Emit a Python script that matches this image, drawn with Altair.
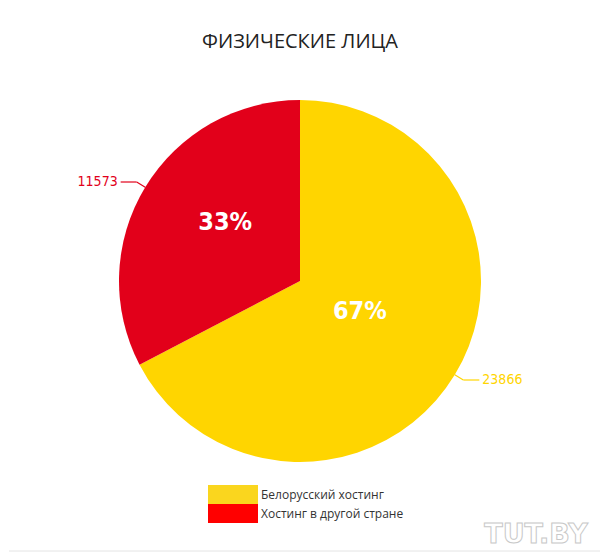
import altair as alt
import pandas as pd

# ---- data ----
categories = ["Белорусский хостинг", "Хостинг в другой стране"]
values = [23866, 11573]
pct_labels = ["67%", "33%"]
value_labels = ["23866", "11573"]
order_idx = [0, 1]
title_text = ["ФИЗИЧЕСКИЕ ЛИЦА"]
watermark_text = ["TUT.BY"]

df = pd.DataFrame({"cat": categories, "value": values, "pct": pct_labels,
                   "lbl": value_labels, "idx": order_idx})

slice_colors = ["#FFD500", "#E2001A"]
legend_colors = ["#FAD61E", "#FF0000"]

CX, CY, R = 300, 281, 181
ELBOW = 191

color = alt.Color("cat:N", scale=alt.Scale(domain=categories, range=slice_colors), legend=None)

base = alt.Chart(df)

pie = base.mark_arc(outerRadius=R).encode(
    theta=alt.Theta("value:Q", stack=True),
    color=color,
    order=alt.Order("idx:Q"),
    x=alt.value(CX), y=alt.value(CY),
)

geo = base.transform_joinaggregate(total="sum(value)").transform_window(
    cum="sum(value)", sort=[alt.SortField("idx")], frame=[None, 0]
).transform_calculate(
    a="(datum.cum - datum.value/2) / datum.total * 2 * PI",
).transform_calculate(
    s="sin(datum.a)", c="cos(datum.a)", sg="sin(datum.a) < 0 ? -1 : 1",
).transform_calculate(
    x1=f"{CX} + {R}*datum.s", y1=f"{CY} - {R}*datum.c",
    ex=f"{CX} + {ELBOW}*datum.s", ey=f"{CY} - {ELBOW}*datum.c",
).transform_calculate(
    hx="datum.ex + datum.sg*16", tx="datum.ex + datum.sg*19",
    # percentage label placement inside the slices
    pr="datum.idx == 0 ? 67 : 95",
    pa="datum.a + (datum.idx == 0 ? -0.08 : 0.12)",
).transform_calculate(
    px=f"{CX} + datum.pr*sin(datum.pa)", py=f"{CY} - datum.pr*cos(datum.pa)",
)

diag = geo.mark_rule(strokeWidth=1.2).encode(
    x=alt.X("x1:Q", scale=None), y=alt.Y("y1:Q", scale=None),
    x2="ex:Q", y2="ey:Q", color=color,
)
horiz = geo.mark_rule(strokeWidth=1.2).encode(
    x=alt.X("ex:Q", scale=None), y=alt.Y("ey:Q", scale=None),
    x2="hx:Q", y2="ey:Q", color=color,
)
lbl_font = dict(font="DejaVu Sans Condensed", fontSize=14, baseline="middle")
lbl_left = geo.transform_filter("datum.sg < 0").mark_text(align="right", **lbl_font).encode(
    x=alt.X("tx:Q", scale=None), y=alt.Y("ey:Q", scale=None), text="lbl:N", color=color,
)
lbl_right = geo.transform_filter("datum.sg > 0").mark_text(align="left", **lbl_font).encode(
    x=alt.X("tx:Q", scale=None), y=alt.Y("ey:Q", scale=None), text="lbl:N", color=color,
)

pct = geo.mark_text(font="DejaVu Sans Condensed", fontWeight="bold", fontSize=25,
                    color="white", align="center", baseline="middle").encode(
    x=alt.X("px:Q", scale=None), y=alt.Y("py:Q", scale=None), text="pct:N",
)

# ---- custom legend ----
leg_y = alt.Y("cat:N", scale=alt.Scale(domain=categories, range=[485, 523],
                                       paddingInner=0, paddingOuter=0), axis=None)
leg_rect = base.mark_rect().encode(
    x=alt.value(208), x2=alt.value(258), y=leg_y,
    fill=alt.Fill("cat:N", scale=alt.Scale(domain=categories, range=legend_colors), legend=None),
)
leg_text = base.mark_text(align="left", baseline="middle", font="Open Sans",
                          fontSize=12, color="#333333").encode(
    x=alt.value(261), y=leg_y, text="cat:N",
)

# ---- title & watermark ----
title = alt.Chart(pd.DataFrame({"t": title_text})).mark_text(
    font="Open Sans", fontSize=20, color="#222222", align="center", baseline="middle"
).encode(x=alt.value(CX), y=alt.value(42), text="t:N")

wm = alt.Chart(pd.DataFrame({"t": watermark_text})).mark_text(
    font="DejaVu Sans", fontWeight="bold", fontSize=27, fill="white",
    stroke="#c8c8c8", strokeWidth=1, align="center", baseline="alphabetic"
).encode(x=alt.value(536), y=alt.value(543), text="t:N")

bottom_line = alt.Chart(pd.DataFrame({"t": watermark_text})).mark_rule(
    color="#e4e4e4", strokeWidth=1
).encode(x=alt.value(9), x2=alt.value(600), y=alt.value(551))

chart = alt.layer(
    pie, diag, horiz, lbl_left, lbl_right, pct, leg_rect, leg_text, title, wm, bottom_line
).properties(
    width=600, height=553, autosize="none", padding=0,
).resolve_scale(y="independent", color="independent").configure_view(stroke=None)

chart.save("out.html", embed_options={"renderer": "svg", "actions": False})
